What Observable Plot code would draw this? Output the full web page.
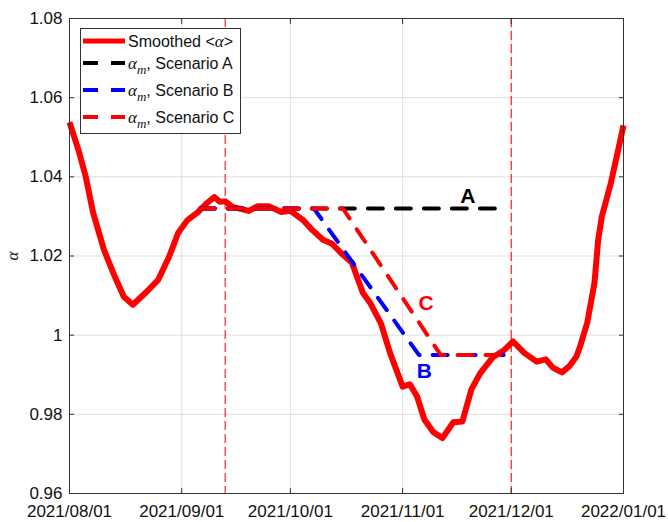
<!DOCTYPE html>
<html><head><meta charset="utf-8">
<script src="https://cdn.jsdelivr.net/npm/d3@7"></script>
<script src="https://cdn.jsdelivr.net/npm/@observablehq/plot@0.6"></script>
<style>
body{margin:0;background:#fff}
#chart{position:relative;width:668px;height:522px}
</style>
</head><body><div id="chart"></div>
<script>
// Smoothed <alpha> curve
const curveDates = ["2021-08-01","2021-08-03T12:00Z","2021-08-05T12:00Z","2021-08-07T12:00Z","2021-08-10T12:00Z","2021-08-13T12:00Z","2021-08-16","2021-08-18T12:00Z","2021-08-22","2021-08-25T12:00Z","2021-08-28T12:00Z","2021-08-31","2021-09-02T12:00Z","2021-09-05T12:00Z","2021-09-08","2021-09-10","2021-09-11T12:00Z","2021-09-13","2021-09-15","2021-09-19T12:00Z","2021-09-22","2021-09-25","2021-09-28T12:00Z","2021-10-01","2021-10-04T12:00Z","2021-10-07","2021-10-10","2021-10-12T12:00Z","2021-10-15T12:00Z","2021-10-18","2021-10-21","2021-10-23","2021-10-26","2021-10-28T12:00Z","2021-11-01","2021-11-03","2021-11-05","2021-11-07","2021-11-09T12:00Z","2021-11-12","2021-11-15","2021-11-17T12:00Z","2021-11-20","2021-11-22T12:00Z","2021-11-26","2021-11-29","2021-12-01T12:00Z","2021-12-04T12:00Z","2021-12-08","2021-12-10T12:00Z","2021-12-12T12:00Z","2021-12-15","2021-12-17","2021-12-19","2021-12-20","2021-12-22","2021-12-24","2021-12-25","2021-12-26","2021-12-28T12:00Z","2021-12-30T12:00Z","2022-01-01"];
const curveValues = [1.0538,1.0467,1.040,1.031,1.0216,1.0148,1.0097,1.0077,1.0107,1.014,1.0198,1.0258,1.029,1.0311,1.0334,1.0349,1.0337,1.0338,1.0324,1.0314,1.0326,1.0326,1.0311,1.0314,1.0291,1.0266,1.0241,1.0231,1.0203,1.0183,1.0107,1.0082,1.003,0.9956,0.987,0.9876,0.9845,0.9787,0.9755,0.974,0.978,0.9782,0.9863,0.9905,0.9945,0.9962,0.9984,0.9956,0.9933,0.9939,0.9918,0.9906,0.9921,0.9946,0.9971,1.0032,1.0133,1.024,1.0299,1.0384,1.0467,1.053];

// Scenario lines (alpha_m)
const scenADates = ["2021-09-06","2021-11-30"];
const scenAValues = [1.032,1.032];
const scenBDates = ["2021-09-06","2021-10-07T12:00Z","2021-11-05T12:00Z","2021-11-30"];
const scenBValues = [1.032,1.032,0.995,0.995];
const scenCDates = ["2021-09-06","2021-10-15T12:00Z","2021-11-11T12:00Z","2021-11-30"];
const scenCValues = [1.032,1.032,0.995,0.995];

// vertical markers
const vlineDates = ["2021-09-13","2021-12-01"];

// annotations
const annoText = ["A","B","C"];
const annoDates = ["2021-11-19","2021-11-07","2021-11-07T12:00Z"];
const annoValues = [1.035,0.991,1.008];
const annoColors = ["#000000","#0000ff","#ff0000"];

// ticks
const xTickDates = ["2021-08-01","2021-09-01","2021-10-01","2021-11-01","2021-12-01","2022-01-01"];
const xTickLabels = ["2021/08/01","2021/09/01","2021/10/01","2021/11/01","2021/12/01","2022/01/01"];
const yTicks = [0.96,0.98,1,1.02,1.04,1.06,1.08];
const yTickLabels = ["0.96","0.98","1","1.02","1.04","1.06","1.08"];

// legend
const legendLabels = ["Smoothed", "Scenario A", "Scenario B", "Scenario C"];
const legendColors = ["#ff0000","#000000","#0000ff","#ff0000"];

const P = s => new Date(s);
const toRows = (ds, vs) => ds.map((d,i)=>({date:P(d), value:vs[i]}));
const curve = toRows(curveDates, curveValues);
const scenA = toRows(scenADates, scenAValues);
const scenB = toRows(scenBDates, scenBValues);
const scenC = toRows(scenCDates, scenCValues);
const anno = annoText.map((t,i)=>({t, date:P(annoDates[i]), value:annoValues[i], c:annoColors[i]}));
const xTicks = xTickDates.map(P);
const xFmt = d => xTickLabels[xTicks.findIndex(t => +t === +d)];
const yFmt = d => yTickLabels[yTicks.findIndex(t => Math.abs(t-d) < 1e-9)];

const dash = "15,13";
const plot = Plot.plot({
  width: 668, height: 522,
  marginLeft: 69, marginRight: 45, marginTop: 18, marginBottom: 29,
  style: {fontFamily: "'Liberation Sans', Arial, sans-serif", fontSize: "17px", background: "#fff", overflow: "visible", color: "#222"},
  x: {type: "utc", domain: [P("2021-08-01"), P("2022-01-01")], label: null},
  y: {domain: [0.96, 1.08], label: null},
  marks: [
    Plot.gridX(xTicks, {stroke: "#000", strokeOpacity: 0.13, strokeWidth: 1}),
    Plot.gridY(yTicks, {stroke: "#000", strokeOpacity: 0.13, strokeWidth: 1}),
    Plot.ruleX(vlineDates.map(P), {stroke: "#ff0000", strokeOpacity: 0.8, strokeWidth: 1.3, strokeDasharray: "9,4"}),
    Plot.line(curve, {x: "date", y: "value", stroke: "#ff0000", strokeWidth: 6, strokeLinejoin: "round", strokeLinecap: "butt"}),
    Plot.line(scenA, {x: "date", y: "value", stroke: "#000", strokeWidth: 4, strokeDasharray: dash}),
    Plot.line(scenB, {x: "date", y: "value", stroke: "#0000ff", strokeWidth: 4, strokeDasharray: dash}),
    Plot.line(scenC, {x: "date", y: "value", stroke: "#ff0000", strokeWidth: 4, strokeDasharray: dash}),
    Plot.text(anno, {x: "date", y: "value", text: "t", fill: "c", fontSize: 21, fontWeight: "bold", fontFamily: "'Liberation Sans', Arial, sans-serif"}),
    Plot.frame({stroke: "#333", strokeWidth: 1}),
    Plot.axisX(xTicks, {anchor: "bottom", tickSize: -5, tickFormat: () => "", stroke: "#333"}),
    Plot.axisX(xTicks, {anchor: "top", tickSize: -5, tickFormat: () => "", stroke: "#333"}),
    Plot.axisY(yTicks, {anchor: "left", tickSize: -5, tickFormat: () => "", stroke: "#333"}),
    Plot.axisY(yTicks, {anchor: "right", tickSize: -5, tickFormat: () => "", stroke: "#333"}),
    Plot.axisX(xTicks, {anchor: "bottom", tickSize: 0, tickPadding: 11, tickFormat: xFmt, fontSize: 17, fill: "#111"}),
    Plot.axisY(yTicks, {anchor: "left", tickSize: 0, tickPadding: 7, tickFormat: yFmt, fontSize: 17, fill: "#111"})
  ]
});
document.getElementById("chart").appendChild(plot);

const svg = d3.select(plot);
// y-axis label
svg.append("text").attr("transform", "translate(18,256) rotate(-90)")
  .attr("text-anchor", "middle").attr("font-family", "'Liberation Serif', 'DejaVu Serif', serif")
  .attr("font-style", "italic").attr("font-size", 17).attr("fill", "#222").text("α");

// legend
const lg = svg.append("g").attr("text-anchor", "start");
lg.append("rect").attr("x", 80.5).attr("y", 28.5).attr("width", 160).attr("height", 105)
  .attr("fill", "#fff").attr("stroke", "#333").attr("stroke-width", 1);
const rowsY = [41, 63, 90, 117];
const serif = "'Liberation Serif', 'DejaVu Serif', serif";
const sans = "'Liberation Sans', Arial, sans-serif";
rowsY.forEach((y, i) => {
  lg.append("line").attr("x1", 83).attr("x2", 125).attr("y1", y).attr("y2", y)
    .attr("stroke", legendColors[i]).attr("stroke-width", i === 0 ? 5 : 4)
    .attr("stroke-dasharray", i === 0 ? null : dash);
  const t = lg.append("text").attr("x", 128).attr("y", y + 5.5).attr("text-anchor", "start")
    .attr("font-family", sans).attr("font-size", 16).attr("fill", "#111");
  if (i === 0) {
    t.append("tspan").text(legendLabels[0] + " <");
    t.append("tspan").attr("font-family", serif).attr("font-style", "italic").attr("font-size", 17).text("α");
    t.append("tspan").text(">");
  } else {
    t.append("tspan").attr("font-family", serif).attr("font-style", "italic").attr("font-size", 17).text("α");
    t.append("tspan").attr("font-family", serif).attr("font-style", "italic").attr("font-size", 13).attr("dy", 5).text("m");
    t.append("tspan").attr("dy", -5).text(", " + legendLabels[i]);
  }
});
</script>
</body></html>
